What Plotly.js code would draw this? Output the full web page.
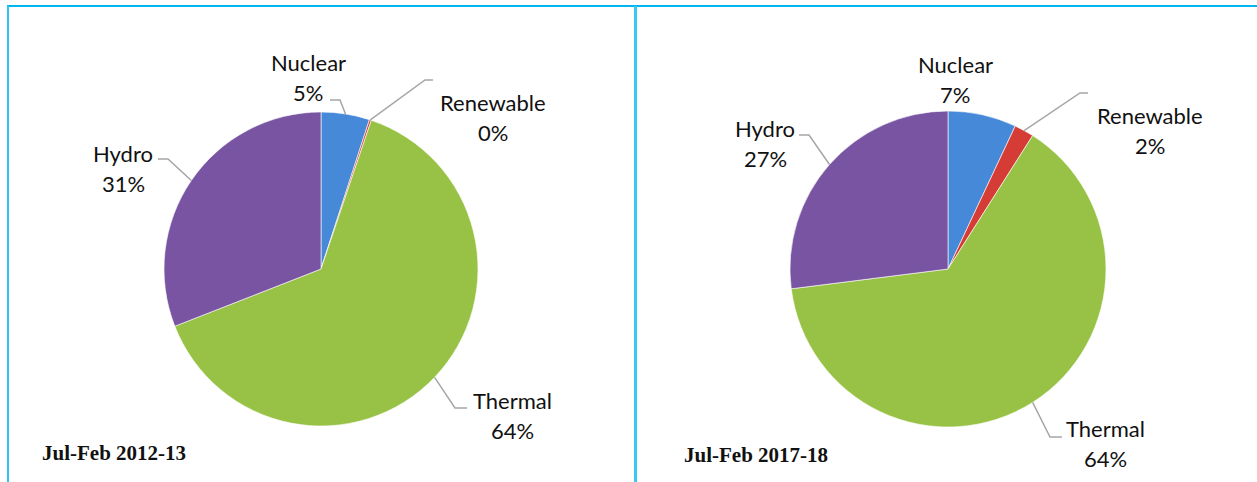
<!DOCTYPE html>
<html>
<head>
<meta charset="utf-8">
<script src="https://cdn.plot.ly/plotly-3.0.1.min.js"></script>
<style>
html,body{margin:0;padding:0;background:#fff;}
#chart{width:1257px;height:482px;}
</style>
</head>
<body>
<div id="chart"></div>
<script>
// ---- data ----
var sources = ["Nuclear", "Renewable", "Thermal", "Hydro"];
var share2012 = [5, 0.2, 64, 31];
var share2017 = [7, 2, 64, 27];
var periodTitles = ["Jul-Feb 2012-13", "Jul-Feb 2017-18"];
var sliceColors = ["#4689d8", "#d63c36", "#98c246", "#7854a2"];

// ---- layout / style (pixels) ----
var W = 1257, H = 482;
var pies = [
  {cx: 321, cy: 269, r: 157, values: share2012,
   labels: [ // per slice: elbow, end, label centre (null = no leader)
     {line: [[340,100],[330,100]], lab: [308,78]},
     {line: [[425,80],[433,80]], lab: [493,117]},
     {line: [[455,408],[467,408]], lab: [512,415]},
     {line: [[168,159],[158,159]], lab: [123,168]}
   ], title: [40,453]},
  {cx: 948, cy: 269, r: 158, values: share2017,
   labels: [
     {line: null, lab: [955,80]},
     {line: [[1080,93],[1088,93]], lab: [1150,130]},
     {line: [[1050,437],[1062,437]], lab: [1105,443]},
     {line: [[809,135],[799,135]], lab: [765,144]}
   ], title: [682,455]}
];
function px(x){return x/W;}
function py(y){return 1 - y/H;}

var traces = [], annotations = [], shapes = [];
pies.forEach(function(p, k){
  traces.push({
    type: 'pie', labels: sources, values: p.values, sort: false,
    direction: 'clockwise', rotation: 0, textinfo: 'none', hoverinfo: 'label+percent',
    marker: {colors: sliceColors, line: {color: 'rgba(255,255,255,0.6)', width: 1}},
    domain: {x: [px(p.cx - p.r), px(p.cx + p.r)], y: [py(p.cy + p.r), py(p.cy - p.r)]},
    showlegend: false
  });
  var total = p.values.reduce(function(a,b){return a+b;}, 0);
  var cum = 0;
  p.values.forEach(function(v, i){
    var mid = (cum + v/2) / total * 2 * Math.PI;
    cum += v;
    var ex = p.cx + p.r * Math.sin(mid), ey = p.cy - p.r * Math.cos(mid);
    var L = p.labels[i];
    if (L.line) {
      var d = 'M ' + px(ex) + ',' + py(ey);
      L.line.forEach(function(pt){ d += ' L ' + px(pt[0]) + ',' + py(pt[1]); });
      shapes.push({type: 'path', xref: 'paper', yref: 'paper', path: d,
                   line: {color: '#a6a6a6', width: 1.5}});
    }
    var pct = Math.round(v / total * 100) + '%';
    annotations.push({xref: 'paper', yref: 'paper', x: px(L.lab[0]), y: py(L.lab[1] - 15),
      text: sources[i], showarrow: false, xanchor: 'center', yanchor: 'middle',
      font: {family: 'Lato, sans-serif', size: 22, color: '#111'}});
    annotations.push({xref: 'paper', yref: 'paper', x: px(L.lab[0]), y: py(L.lab[1] + 15),
      text: pct, showarrow: false, xanchor: 'center', yanchor: 'middle',
      font: {family: 'Lato, sans-serif', size: 22, color: '#111'}});
  });
  annotations.push({xref: 'paper', yref: 'paper', x: px(p.title[0]), y: py(p.title[1]),
    text: '<b>' + periodTitles[k] + '</b>', showarrow: false, xanchor: 'left', yanchor: 'middle',
    font: {family: 'Liberation Serif, Times New Roman, serif', size: 21, color: '#111'}});
});

// frame lines
shapes.push({type:'line', xref:'paper', yref:'paper', x0: px(7), x1: 1, y0: py(6), y1: py(6), line:{color:'#00b6ef', width:2}});
shapes.push({type:'line', xref:'paper', yref:'paper', x0: px(8), x1: px(8), y0: py(6), y1: 0, line:{color:'#2ec4f2', width:2}});
shapes.push({type:'line', xref:'paper', yref:'paper', x0: px(635.5), x1: px(635.5), y0: py(6), y1: 0, line:{color:'#3cc8f5', width:3}});

Plotly.newPlot('chart', traces, {
  width: W, height: H, margin: {l:0, r:0, t:0, b:0},
  paper_bgcolor: '#fff', plot_bgcolor: '#fff',
  annotations: annotations, shapes: shapes
}, {displayModeBar: false, staticPlot: true});
</script>
</body>
</html>
